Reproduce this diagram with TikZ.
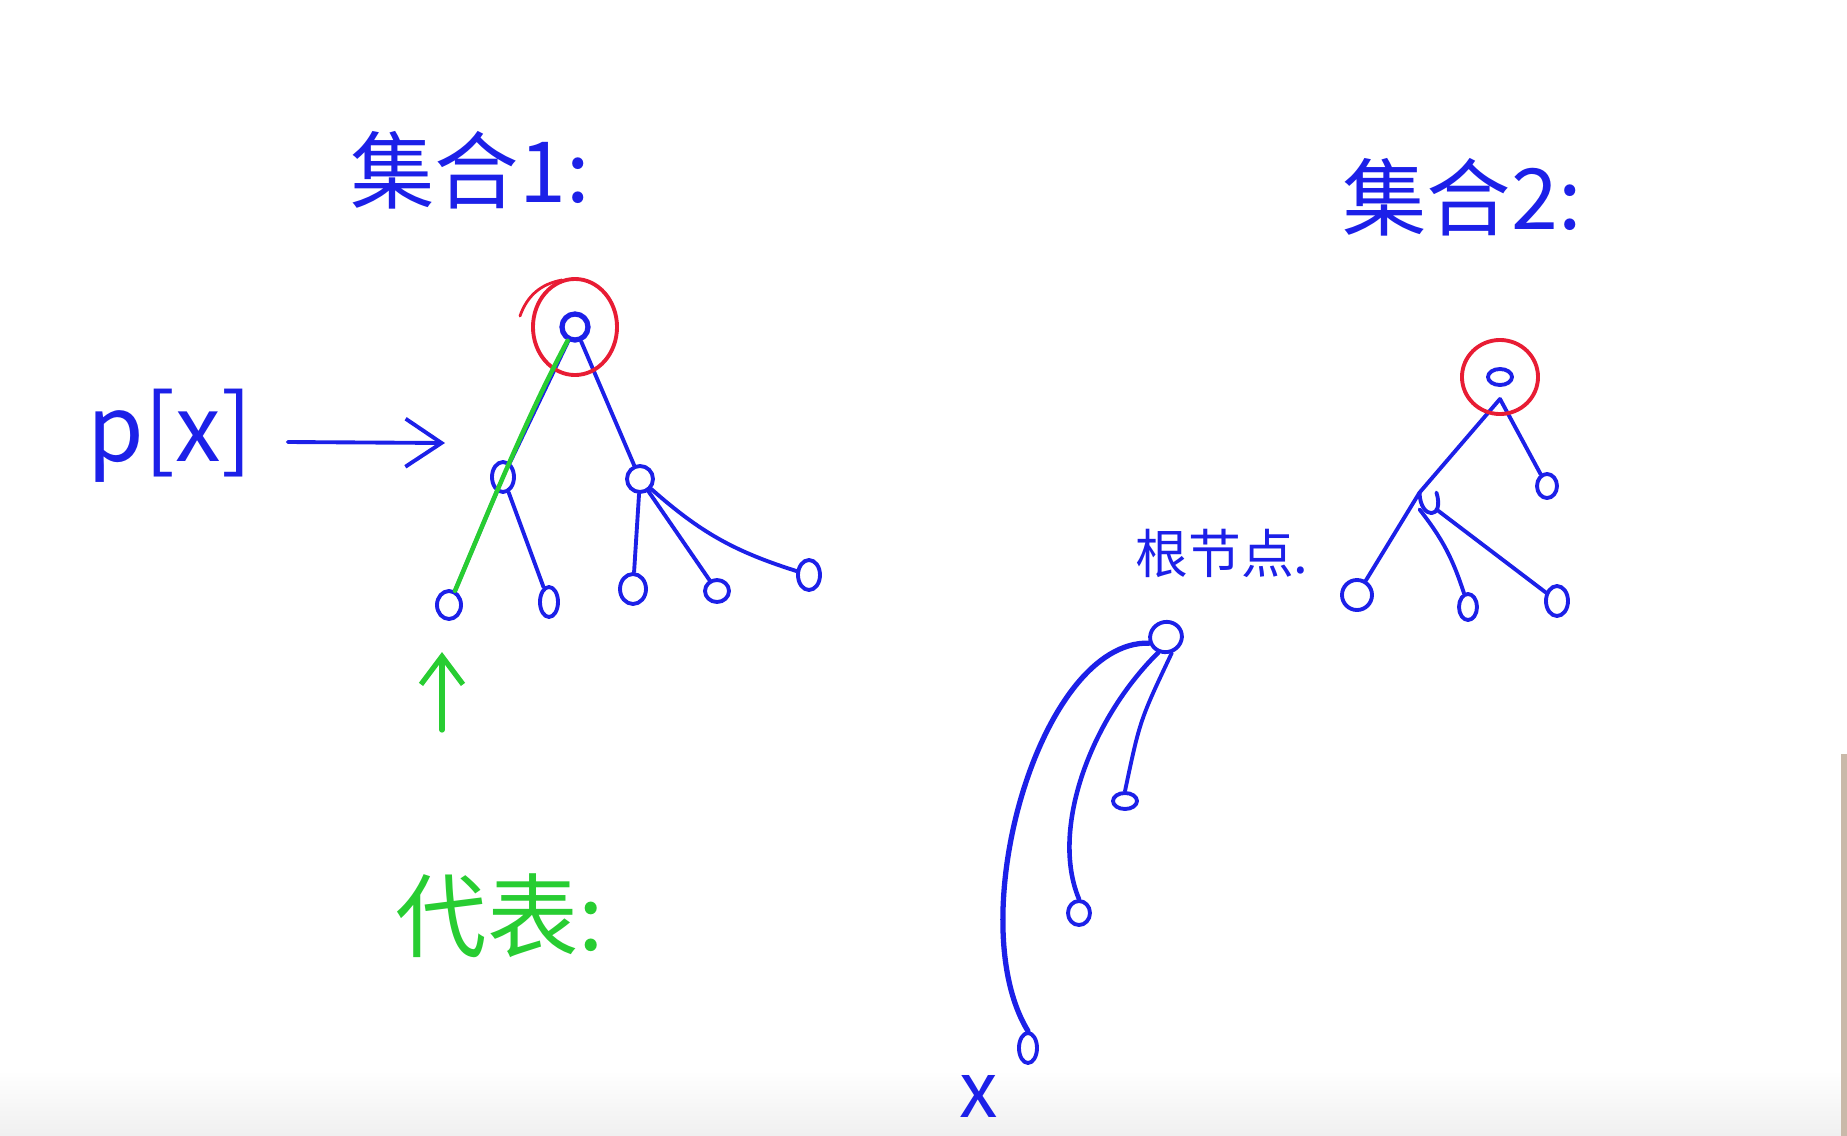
\documentclass[tikz,border=0pt]{standalone}
\usepackage{fontspec}
\newfontfamily\cjk{Noto Sans CJK SC}
\usetikzlibrary{shapes.geometric,arrows.meta}

\definecolor{blu}{RGB}{28,32,232}
\definecolor{rosso}{RGB}{232,28,52}
\definecolor{verde}{RGB}{40,205,50}

\tikzset{
  tratto/.style={line width=1.1pt, line cap=round, line join=round},
  nodo/.style={draw=blu, ellipse, tratto, inner sep=0pt, minimum width=0.24cm, minimum height=0.28cm},
  ramo/.style={draw=blu, tratto},
  anello/.style={draw=rosso, tratto},
  scritta/.style={inner sep=0pt, text=blu, font={\cjk\fontsize{#1}{#1}\selectfont}},
}

\begin{document}
\begin{tikzpicture}[x=0.01cm, y=-0.01cm]

    % Cornice della lavagna
    \useasboundingbox (0,0) rectangle (1847,1136);
    \shade[top color=white, bottom color=gray!12] (0,1070) rectangle (1847,1136);
    \fill[brown!45!gray!55] (1841,754) rectangle (1847,1136);

    % Titoli
    \node[scritta=24] (tit1) at (470,170) {集合1:};
    \node[scritta=24] (tit2) at (1462,197) {集合2:};

    % Albero del primo insieme
    \node[nodo, line width=1.5pt, minimum width=0.26cm, minimum height=0.26cm] (r1) at (575,327) {};
    \node[nodo, minimum width=0.22cm, minimum height=0.3cm] (a1) at (503,477) {};
    \node[nodo, minimum width=0.26cm, minimum height=0.26cm] (a2) at (640,479) {};
    \node[nodo] (f1) at (449,605) {};
    \node[nodo, minimum width=0.18cm, minimum height=0.3cm] (f2) at (549,602) {};
    \node[nodo, minimum width=0.26cm, minimum height=0.3cm] (f3) at (633,589) {};
    \node[nodo, minimum height=0.22cm] (f4) at (717,591) {};
    \node[nodo, minimum width=0.22cm, minimum height=0.3cm] (f5) at (809,575) {};

    \foreach \u/\v in {r1/a1, r1/a2, a1/f1, a1/f2, a2/f3, a2/f4}
        \draw[ramo] (\u) -- (\v);
    \draw[ramo] (a2) to[bend right=12] (f5);

    % Radice cerchiata in rosso
    \draw[anello] (r1) ellipse [x radius=0.42cm, y radius=0.48cm];
    \draw[anello, line width=0.8pt] (520,316) to[bend left=30] (562,280);

    % Percorso di risalita (verde)
    \draw[verde, tratto, line width=1.3pt] (r1) .. controls (525,420) and (485,520) .. (f1);
    \coordinate (coda) at (442,730);
    \coordinate (punta) at (442,652);
    \draw[verde, tratto, line width=1.5pt, -{Straight Barb[length=0.28cm, width=0.42cm]}] (coda) -- (punta);

    % Etichetta p[x]
    \node[scritta=26] (px) at (170,436) {p[x]};
    \coordinate (fine) at (445,443);
    \draw[ramo, -{Straight Barb[length=0.36cm, width=0.48cm]}] ([xshift=0.35cm, yshift=-0.06cm]px.east) -- (fine);

    % Albero del secondo insieme
    \node[nodo, minimum width=0.24cm, minimum height=0.16cm] (r2) at (1500,377) {};
    \node[nodo, minimum width=0.2cm, minimum height=0.24cm] (b1) at (1547,486) {};
    \node[nodo, draw=none, minimum size=0.2cm] (m2) at (1428,501) {};
    \node[nodo, minimum width=0.3cm, minimum height=0.3cm] (g1) at (1357,595) {};
    \node[nodo, minimum width=0.18cm, minimum height=0.26cm] (g2) at (1468,607) {};
    \node[nodo, minimum width=0.22cm, minimum height=0.3cm] (g3) at (1557,601) {};

    \draw[ramo] ([yshift=-0.12cm]r2.south) -- (b1);
    \draw[ramo] ([yshift=-0.12cm]r2.south) -- (m2.north west) -- (g1);
    \draw[ramo] (m2.south west) to[bend left=10] (g2);
    \draw[ramo] (m2.south east) -- (g3);
    \draw[ramo] (m2.north west) .. controls (1420,520) and (1445,520) .. (m2.north east);
    \draw[anello] (r2) ellipse [x radius=0.38cm, y radius=0.37cm];

    \node[scritta=15] (rad) at (1222,553) {根节点.};

    % Catena verso x
    \node[nodo, minimum width=0.32cm, minimum height=0.3cm, rotate=20] (t) at (1166,637) {};
    \node[nodo, minimum width=0.24cm, minimum height=0.16cm] (c1) at (1125,801) {};
    \node[nodo, minimum width=0.22cm, minimum height=0.24cm] (c2) at (1079,913) {};
    \node[nodo, minimum width=0.18cm, minimum height=0.3cm] (c3) at (1028,1048) {};

    \draw[ramo, line width=1.5pt] (t.west) .. controls (1040,640) and (960,920) .. (c3.north);
    \draw[ramo, line width=1.3pt] (t.south west) .. controls (1090,720) and (1050,830) .. (c2.north);
    \draw[ramo] (t.south) .. controls (1140,720) .. (c1.north);

    \node[scritta=22] (x) at (979,1096) {x};

    % Rappresentante
    \node[scritta=26, text=verde] (rap) at (500,916) {代表:};

\end{tikzpicture}
\end{document}
